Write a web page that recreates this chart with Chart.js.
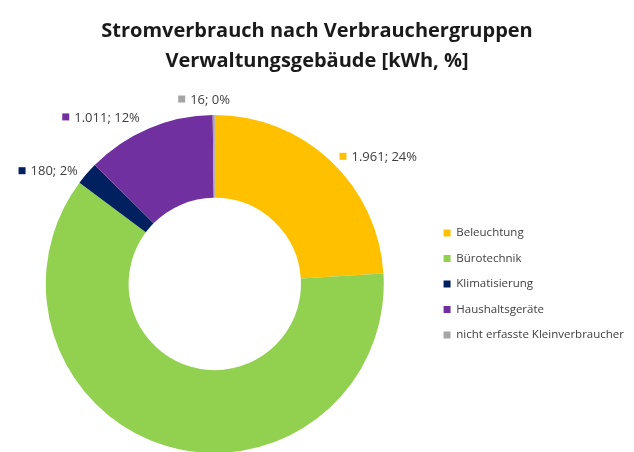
<!DOCTYPE html>
<html>
<head>
<meta charset="utf-8">
<script src="https://cdn.jsdelivr.net/npm/chart.js@4.4.0/dist/chart.umd.min.js"></script>
<style>
  html, body { margin: 0; padding: 0; background: #fff; overflow: hidden; }
  #wrap { width: 634px; height: 452px; overflow: hidden; }
</style>
</head>
<body>
<div id="wrap"><canvas id="chart" width="634" height="453"></canvas></div>
<script>
const categories = ['Beleuchtung', 'Bürotechnik', 'Klimatisierung', 'Haushaltsgeräte', 'nicht erfasste Kleinverbraucher'];
const consumption = [1961, 5002, 180, 1011, 16];
const colors = ['#FFC000', '#92D050', '#002060', '#7030A0', '#A5A5A5'];
const titleLines = ['Stromverbrauch nach Verbrauchergruppen', 'Verwaltungsgebäude [kWh, %]'];

function formatValue(v) {
    return String(v).replace(/\B(?=(\d{3})+(?!\d))/g, '.');
}

const total = consumption.reduce((a, b) => a + b, 0);

// data labels outside the ring, placed from the slice's mid angle
const sliceLabels = {
    id: 'sliceLabels',
    afterDatasetsDraw(chart) {
        const ctx = chart.ctx;
        const meta = chart.getDatasetMeta(0);
        ctx.save();
        ctx.font = '13px "Open Sans"';
        ctx.textBaseline = 'middle';
        meta.data.forEach((arc, i) => {
            const p = arc.getProps(['x', 'y', 'startAngle', 'endAngle', 'outerRadius'], true);
            const mid = (p.startAngle + p.endAngle) / 2;
            const sin = Math.cos(mid);            // horizontal component
            const cos = -Math.sin(mid);           // upward component
            const ex = p.x + sin * p.outerRadius;
            const ey = p.y - cos * p.outerRadius;
            const text = formatValue(consumption[i]) + '; ' + Math.round(consumption[i] / total * 100) + '%';
            const box = 7, gap = 5;
            const w = box + gap + ctx.measureText(text).width;
            const ax = ex + (sin >= 0 ? 9 : -9);
            const fx = Math.min(1, Math.max(0, (1 - sin * 4) / 2));
            const left = ax - fx * w;
            const py = ey - (cos > 0 ? 16 * Math.pow(cos, 4) : -10);
            ctx.fillStyle = colors[i];
            ctx.fillRect(left, py - box / 2, box, box);
            ctx.fillStyle = '#404040';
            ctx.fillText(text, left + box + gap, py + 1);
        });
        ctx.restore();
    }
};

new Chart(document.getElementById('chart').getContext('2d'), {
    type: 'doughnut',
    data: {
        labels: categories,
        datasets: [{
            data: consumption,
            backgroundColor: colors,
            borderWidth: 0
        }]
    },
    options: {
        responsive: false,
        animation: false,
        cutout: '51%',
        layout: { padding: 0 },
        plugins: {
            title: {
                display: true,
                text: titleLines,
                color: '#1a1a1a',
                font: { family: 'Open Sans', size: 20, weight: 'bold', lineHeight: 1.5 },
                padding: { top: 16, bottom: 39 }
            },
            legend: {
                position: 'right',
                fullSize: false,
                labels: {
                    boxWidth: 7,
                    boxHeight: 7,
                    padding: 14,
                    color: '#404040',
                    font: { family: 'Open Sans', size: 11.5 }
                }
            },
            tooltip: { enabled: false }
        }
    },
    plugins: [sliceLabels]
});
</script>
</body>
</html>
